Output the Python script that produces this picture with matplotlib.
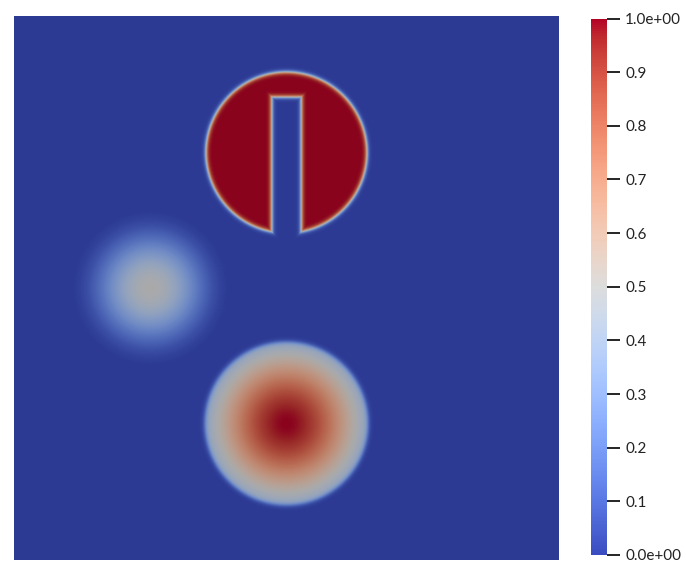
import numpy as np
import matplotlib
matplotlib.use("Agg")
import matplotlib.pyplot as plt
from matplotlib.colors import ListedColormap, Normalize
from matplotlib.cm import ScalarMappable

# 세 가지 형상 (슬롯 원판, 원뿔형, 험프) 파라미터 - 그림에서 읽은 값
disk_center = [0.5, 0.75]
disk_radius = 0.15
slot_width = 0.05
slot_top = 0.85

cone_center = [0.5, 0.25]
cone_radius = 0.15
cone_edge_value = 0.38   # 가장자리에서의 값 (그림에서 추정)

hump_center = [0.25, 0.5]
hump_radius = 0.15
hump_peak = 0.5

cbar_ticks = [0.0, 0.1, 0.2, 0.3, 0.4, 0.5, 0.6, 0.7, 0.8, 0.9, 1.0]
cbar_labels = ["0.0e+00", "0.1", "0.2", "0.3", "0.4", "0.5", "0.6", "0.7", "0.8", "0.9", "1.0e+00"]

n = 545
x = np.linspace(0, 1, n)
X, Y = np.meshgrid(x, x)


def smooth(d, w):
    # d < 0 안쪽 -> 1, 바깥 -> 0
    return 0.5 * (1 - np.tanh(d / w))


u = np.zeros_like(X)

# 슬롯 원판 (경계는 수치 확산처럼 약간 흐리게)
d_disk = np.hypot(X - disk_center[0], Y - disk_center[1]) - disk_radius
d_slot = np.maximum(np.abs(X - disk_center[0]) - slot_width / 2, Y - slot_top)
d = np.maximum(d_disk, -d_slot)
u += smooth(d + 0.002, 0.004)

# 원뿔(부드러운 형태)
rc = np.hypot(X - cone_center[0], Y - cone_center[1]) / cone_radius
k = -np.log(cone_edge_value)
u += np.exp(-k * rc ** 2) * smooth((rc - 1.0) * cone_radius, 0.005)

# 코사인 험프
rh = np.minimum(np.hypot(X - hump_center[0], Y - hump_center[1]) / hump_radius, 1.0)
u += hump_peak * (1 + np.cos(np.pi * rh)) / 2

u = np.clip(u, 0, 1)

# ParaView 조명 효과 때문에 화면의 색이 조금 어둡게 보임
base = plt.get_cmap("coolwarm")
cols = base(np.linspace(0, 1, 256))
cols[:, :3] *= 0.77
shaded = ListedColormap(cols)

fig = plt.figure(figsize=(6.86, 5.81), dpi=100)
W, H = 686, 581

ax = fig.add_axes([14 / W, (H - 560) / H, 545 / W, 544 / H])
ax.imshow(u, origin="lower", extent=[0, 1, 0, 1], cmap=shaded, vmin=0, vmax=1,
          interpolation="nearest", aspect="auto")
ax.set_axis_off()

cax = fig.add_axes([591 / W, (H - 555) / H, 16 / W, (555 - 18.5) / H])
sm = ScalarMappable(norm=Normalize(0, 1), cmap=base)
cb = fig.colorbar(sm, cax=cax)
cb.outline.set_visible(False)
cb.set_ticks(cbar_ticks)
cb.set_ticklabels(cbar_labels)
cax.tick_params(length=9, width=1.2, color="black", labelsize=11, labelcolor="#222222", pad=4)
for t in cax.get_yticklabels():
    t.set_fontfamily("Lato")

fig.savefig("out.png", dpi=100)
